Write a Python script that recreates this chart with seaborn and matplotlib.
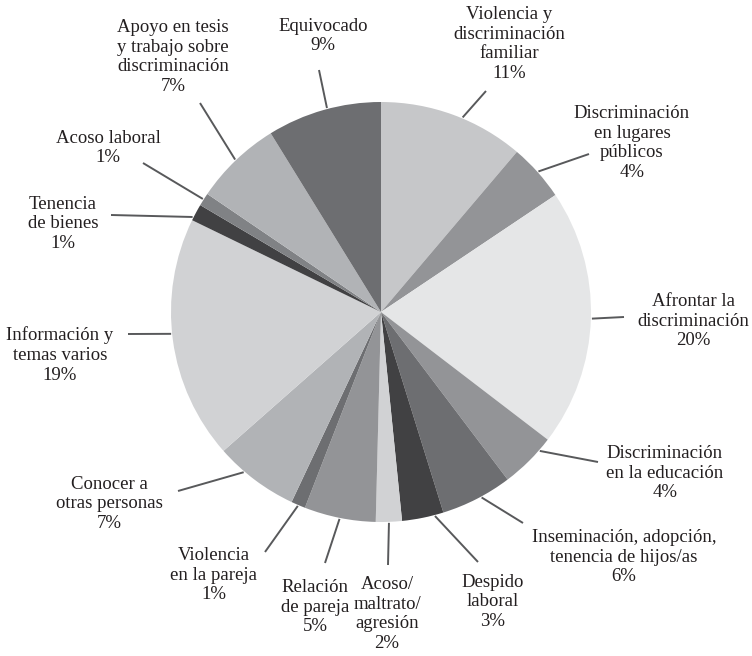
import numpy as np
import matplotlib
matplotlib.use("Agg")
import matplotlib.pyplot as plt
import seaborn as sns

# Data (clockwise from 12 o'clock)
categories = [
    "Violencia y\ndiscriminación\nfamiliar",
    "Discriminación\nen lugares\npúblicos",
    "Afrontar la\ndiscriminación",
    "Discriminación\nen la educación",
    "Inseminación, adopción,\ntenencia de hijos/as",
    "Despido\nlaboral",
    "Acoso/\nmaltrato/\nagresión",
    "Relación\nde pareja",
    "Violencia\nen la pareja",
    "Conocer a\notras personas",
    "Información y\ntemas varios",
    "Tenencia\nde bienes",
    "Acoso laboral",
    "Apoyo en tesis\ny trabajo sobre\ndiscriminación",
    "Equivocado",
]
shares = [11.2, 4.4, 19.8, 4.3, 5.5, 3.2, 2.0, 5.5, 1.1, 6.5, 18.7, 1.3, 1.0, 6.7, 8.8]
pct_labels = ["11%", "4%", "20%", "4%", "6%", "3%", "2%", "5%", "1%", "7%",
              "19%", "1%", "1%", "7%", "9%"]
colors = ["#c6c7c9", "#939497", "#e5e6e7", "#939497", "#6d6e71", "#414143",
          "#d1d2d4", "#939497", "#6d6e71", "#b1b3b6", "#d1d2d4", "#414143",
          "#808285", "#b1b3b6", "#6d6e71"]

# layout (pixel positions, y measured from top)
W, H = 752, 656
cx, cy, R = 381, 312, 210
text_pos = [(509, 44), (632, 143), (693, 321), (665, 473), (624, 557),
            (493, 602), (387, 614), (315, 607), (214, 575), (109, 504),
            (60, 355), (63, 224), (108, 148), (173, 57), (323, 36)]
line_end = [(486, 91), (589, 154), (624, 317), (598, 462), (523, 523),
            (478, 562), (388, 565), (325, 563), (265, 552), (178, 491),
            (128, 334), (111, 215), (143, 163), (200, 103), (319, 70)]
# clockwise offset (degrees) of each leader start from the slice middle
leader_shift = [2.6, 0, 0, -4, -1.3, -3.3, 0, 0, 0, 3.7, 1.8, -1.5, 0, 0, 1]

sns.set_theme(style="white")
plt.rcParams['font.family'] = ['Liberation Serif', 'DejaVu Serif']

fig = plt.figure(figsize=(W / 100, H / 100), dpi=100)
ax = fig.add_axes([0, 0, 1, 1])

wedges, _ = ax.pie(shares, colors=colors, startangle=90, counterclock=False,
                   center=(cx, H - cy), radius=R, frame=True,
                   wedgeprops=dict(linewidth=0))
ax.set_xlim(0, W)
ax.set_ylim(0, H)
ax.set_aspect("equal")
ax.axis("off")

for w, lab, pct, (tx, ty), (lx, ly), sh in zip(wedges, categories, pct_labels,
                                               text_pos, line_end, leader_shift):
    mid = np.deg2rad((w.theta1 + w.theta2) / 2 - sh)
    sx = cx + (R + 1) * np.cos(mid)
    sy = (H - cy) + (R + 1) * np.sin(mid)
    ax.plot([sx, lx], [sy, H - ly], color="#58595b", lw=1.4,
            solid_capstyle="butt")
    ax.text(tx, H - ty, lab + "\n" + pct, ha="center", va="center",
            fontsize=13.5, color="#231f20", linespacing=1.2)

plt.savefig("out.png", dpi=100)
